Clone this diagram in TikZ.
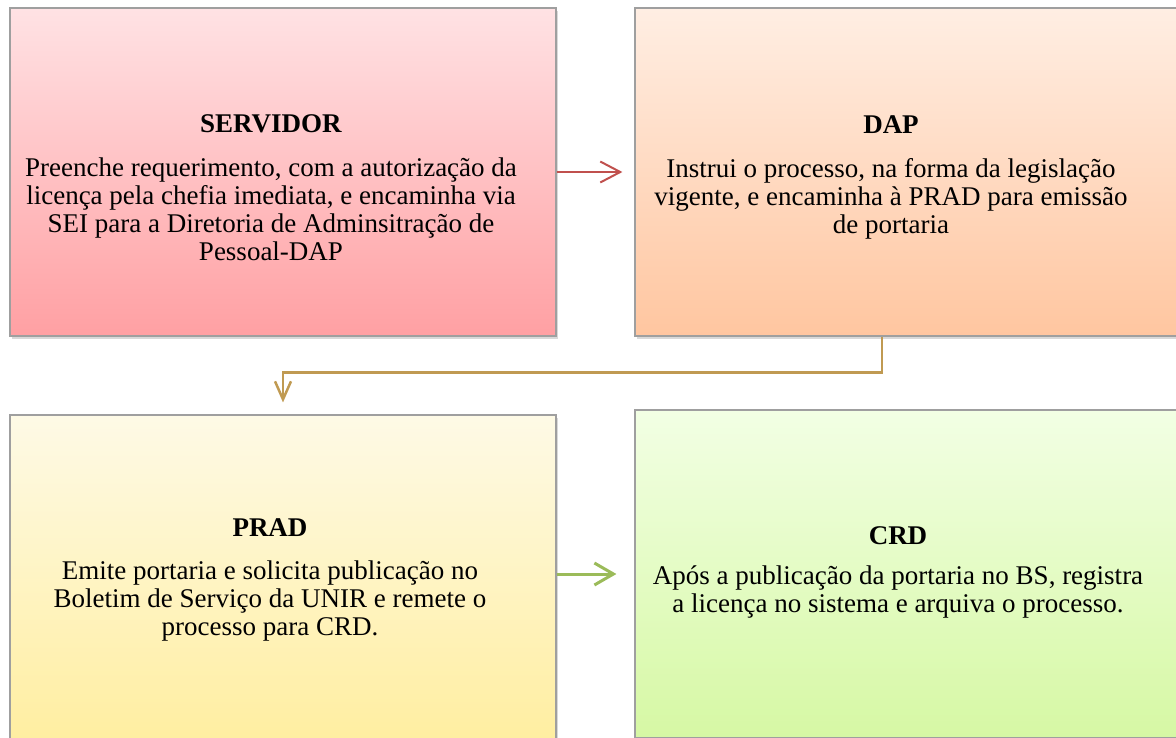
\documentclass[tikz,border=0pt]{standalone}
\usepackage{fontspec}
\setmainfont{Liberation Serif}
\usetikzlibrary{arrows.meta,shadows}
\definecolor{rose}{RGB}{192,80,77}
\definecolor{gold}{RGB}{192,154,82}
\definecolor{leaf}{RGB}{155,187,89}
\begin{document}
\begin{tikzpicture}[x=1pt, y=1pt,
    box/.style = {draw=gray!75, line width=1.2pt, minimum width=546pt, minimum height=328pt, inner sep=0pt, shading=axis,
                  drop shadow={shadow xshift=2pt, shadow yshift=-2.5pt, opacity=0.3}},
    txt/.style = {align=center, font=\fontsize{27}{28}\selectfont},
    flow/.style = {line width=#1}]
        \useasboundingbox (0,0) rectangle (1176,-737);
        \node[box, top color={rgb,255:red,255;green,226;blue,228}, bottom color={rgb,255:red,255;green,160;blue,163}] (serv) at (283,-172) {};
        \node[box, top color={rgb,255:red,255;green,238;blue,227}, bottom color={rgb,255:red,255;green,198;blue,160}] (dap) at (908,-172) {};
        \node[box, top color={rgb,255:red,254;green,250;blue,230}, bottom color={rgb,255:red,255;green,238;blue,160}] (prad) at (283,-579) {};
        \node[box, top color={rgb,255:red,242;green,255;blue,228}, bottom color={rgb,255:red,214;green,248;blue,164}] (crd) at (908,-574) {};
        \node[txt] (servtxt) at ([xshift=-12pt,yshift=-16pt]serv.center) {\textbf{SERVIDOR}\\[16pt]Preenche requerimento, com a autorização da\\licença pela chefia imediata, e encaminha via\\SEI para a Diretoria de Adminsitração de\\Pessoal-DAP};
        \node[txt] (daptxt) at ([xshift=-17pt,yshift=-5pt]dap.center) {\textbf{DAP}\\[16pt]Instrui o processo, na forma da legislação\\vigente, e encaminha à PRAD para emissão\\de portaria};
        \node[txt] (pradtxt) at ([xshift=-13pt,yshift=-1pt]prad.center) {\textbf{PRAD}\\[15pt]Emite portaria e solicita publicação no\\Boletim de Serviço da UNIR e remete o\\processo para CRD.};
        \node[txt] (crdtxt) at ([xshift=-10pt,yshift=2pt]crd.center) {\textbf{CRD}\\[12pt]Após a publicação da portaria no BS, registra\\a licença no sistema e arquiva o processo.};
        \draw[flow=2pt, rose, -{Straight Barb[length=20pt, width=21pt]}] (serv.east) -- ([xshift=-12pt]dap.west);
        \draw[flow=2.5pt, gold, -{Straight Barb[length=18pt, width=16pt]}] ([xshift=-26pt]dap.south) -- ++(0,-36) -| ([yshift=12pt]prad.north);
        \draw[flow=3pt, leaf, -{Straight Barb[length=19pt, width=22pt]}] (prad.east |- crd.west) -- ([xshift=-18pt]crd.west);
    \end{tikzpicture}
\end{document}
